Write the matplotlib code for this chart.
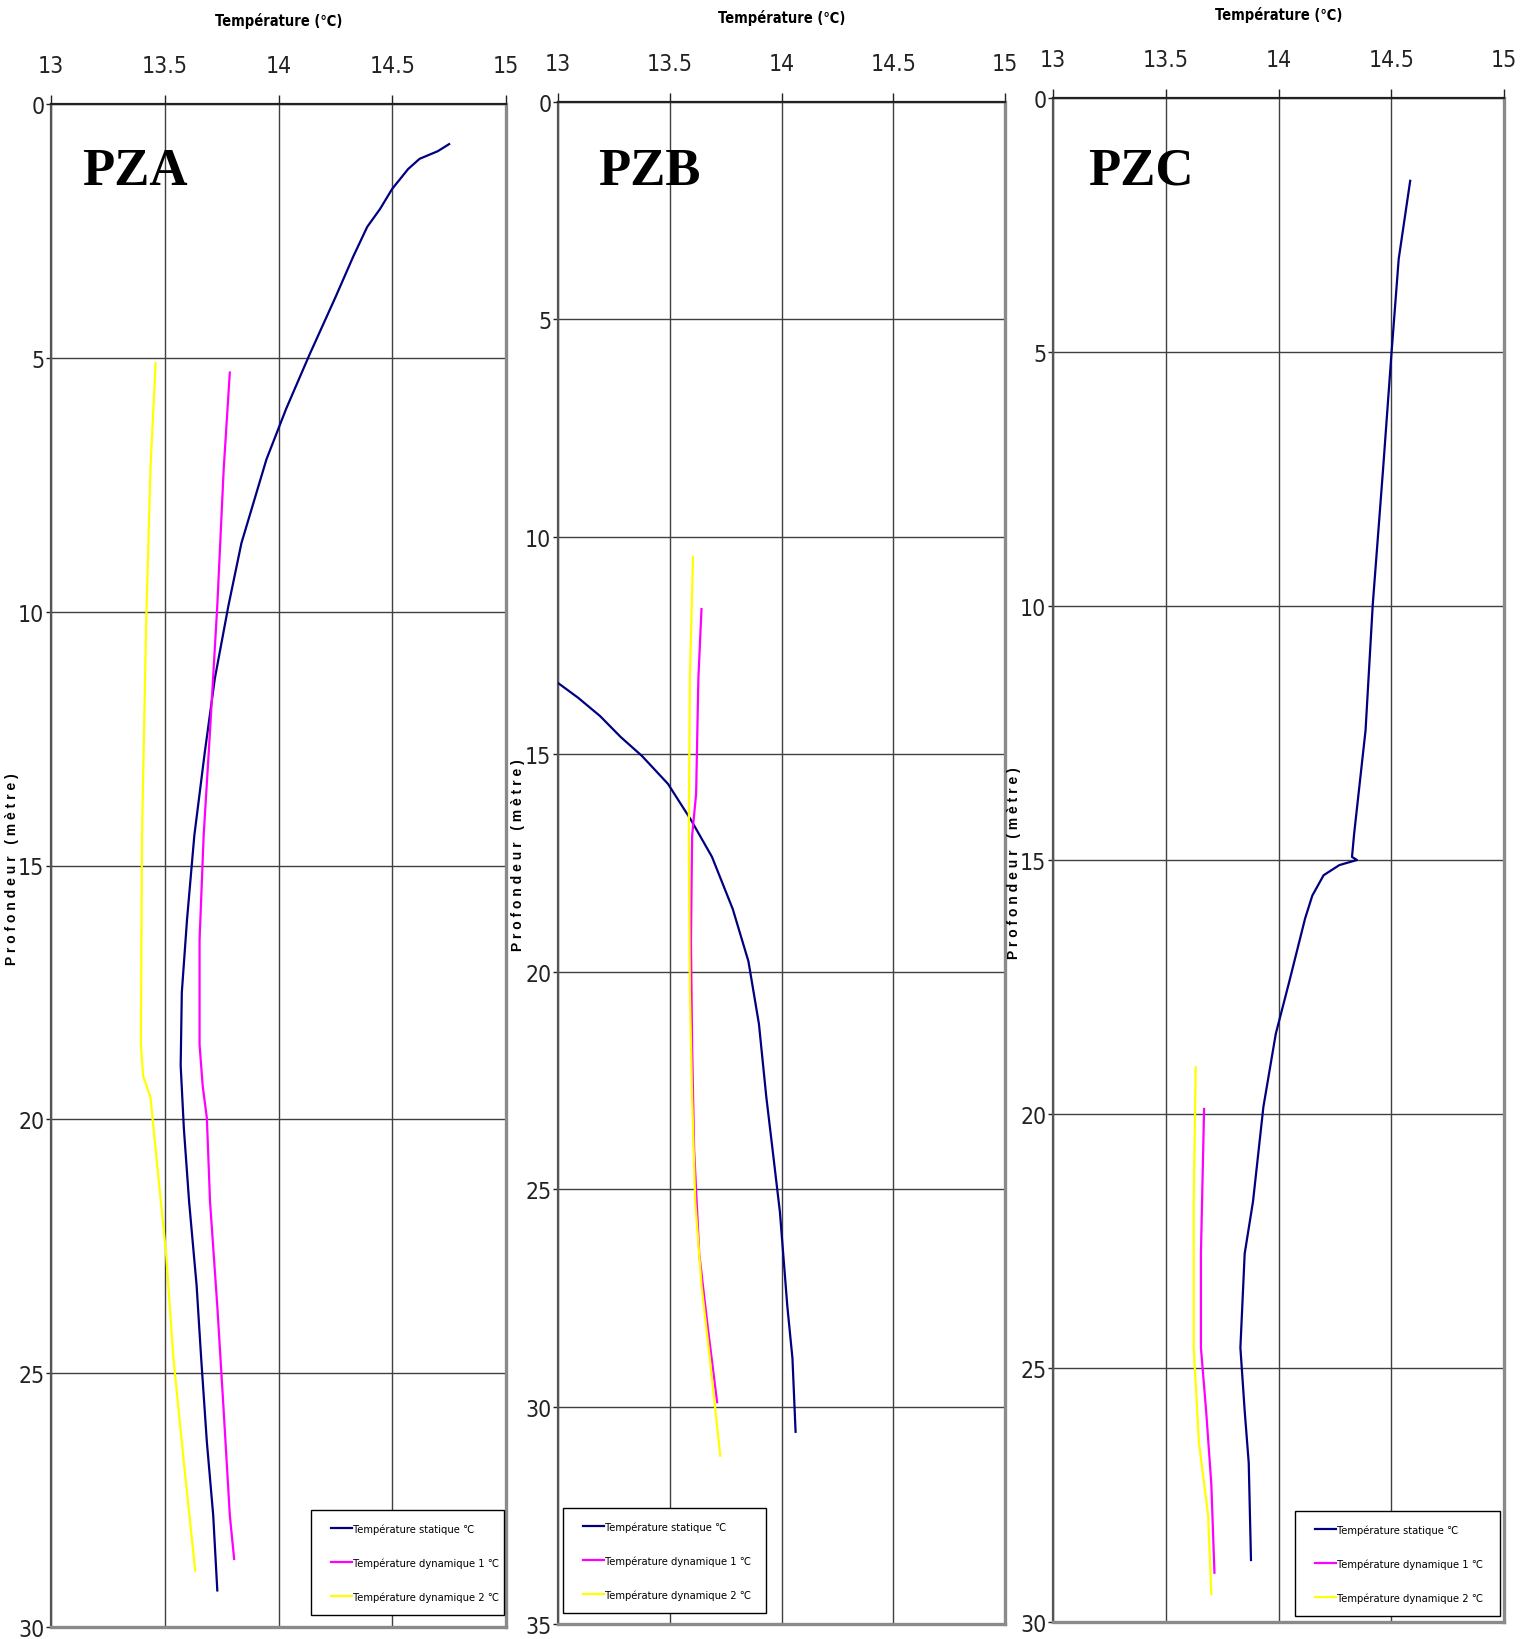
import matplotlib
matplotlib.use("Agg")
import matplotlib.pyplot as plt
from matplotlib import font_manager as fm
from matplotlib.lines import Line2D
from matplotlib.legend_handler import HandlerLine2D

# --- DATA (temperature in degC, depth in m) ---
A_STAT_T = [14.75, 14.70, 14.62, 14.57, 14.50, 14.446, 14.39, 14.329, 14.25, 14.136,
            14.034, 13.947, 13.837, 13.78, 13.72, 13.676, 13.63, 13.598, 13.575,
            13.57, 13.584, 13.607, 13.64, 13.66, 13.685, 13.713, 13.731]
A_STAT_D = [0.79, 0.93, 1.08, 1.28, 1.67, 2.07, 2.42, 3.0, 3.81, 4.94,
            6.0, 7.0, 8.65, 9.88, 11.32, 12.77, 14.41, 16.06, 17.5,
            18.94, 20.18, 21.62, 23.27, 24.7, 26.35, 27.8, 29.28]
A_DYN1_T = [13.786, 13.759, 13.731, 13.699, 13.671, 13.653, 13.653, 13.667, 13.685,
            13.699, 13.731, 13.759, 13.786, 13.805]
A_DYN1_D = [5.29, 7.2, 9.88, 12.35, 14.41, 16.47, 18.53, 19.35, 19.97,
            21.62, 23.68, 25.74, 27.8, 28.66]
A_DYN2_T = [13.46, 13.437, 13.418, 13.40, 13.395, 13.405, 13.437, 13.469, 13.506,
            13.538, 13.584, 13.634]
A_DYN2_D = [5.1, 7.2, 10.29, 14.41, 18.53, 19.15, 19.56, 21.0, 22.65,
            24.7, 26.76, 28.89]

B_STAT_T = [13.0, 13.09, 13.188, 13.28, 13.376, 13.492, 13.595, 13.689, 13.782,
            13.852, 13.899, 13.932, 13.96, 13.993, 14.026, 14.049, 14.063]
B_STAT_D = [13.36, 13.7, 14.12, 14.6, 15.04, 15.68, 16.51, 17.36, 18.56,
            19.76, 21.2, 22.88, 24.09, 25.53, 27.69, 28.89, 30.58]
B_DYN1_T = [13.642, 13.628, 13.618, 13.60, 13.595, 13.60, 13.609, 13.632, 13.67, 13.712]
B_DYN1_D = [11.66, 13.27, 15.91, 16.88, 19.28, 21.68, 24.09, 26.49, 28.17, 29.9]
B_DYN2_T = [13.604, 13.59, 13.585, 13.59, 13.60, 13.614, 13.642, 13.679, 13.726]
B_DYN2_D = [10.46, 13.27, 16.88, 20.48, 22.88, 25.29, 27.21, 28.89, 31.13]

C_STAT_T = [14.584, 14.533, 14.501, 14.464, 14.418, 14.386, 14.335, 14.326, 14.348,
            14.27, 14.20, 14.15, 14.118, 14.048, 13.988, 13.933, 13.887, 13.85,
            13.831, 13.85, 13.868, 13.878]
C_STAT_D = [1.63, 3.17, 5.03, 7.29, 9.97, 12.45, 14.5, 14.94, 15.0,
            15.1, 15.3, 15.7, 16.15, 17.39, 18.42, 19.86, 21.72, 22.75,
            24.6, 25.84, 26.87, 28.78]
C_DYN1_T = [13.67, 13.656, 13.656, 13.679, 13.702, 13.716]
C_DYN1_D = [19.9, 22.75, 24.6, 25.84, 27.28, 29.03]
C_DYN2_T = [13.633, 13.624, 13.624, 13.647, 13.688, 13.702]
C_DYN2_D = [19.08, 21.72, 24.6, 26.46, 27.9, 29.45]

X_TICKS = [13, 13.5, 14, 14.5, 15]
X_TICKLABELS = ['13', '13.5', '14', '14.5', '15']
NAMES = ['PZA', 'PZB', 'PZC']
MAX_DEPTH = [30, 35, 30]
LABELS = ['Température statique ℃', 'Température dynamique 1 ℃', 'Température dynamique 2 ℃']
COLORS = ['#000080', '#ff00ff', '#ffff00']
XLABEL = 'Température (℃)'
YLABEL = ' '.join('Profondeur (mètre)')


def find_narrow():
    # look for any installed narrow / condensed sans face
    for f in fm.fontManager.ttflist:
        fn = f.fname.lower()
        if ('narrow' in fn or 'condensed' in fn) and 'mono' not in fn and 'serif' not in fn \
                and 'bold' not in fn and 'oblique' not in fn and 'italic' not in fn:
            return f.name, f.stretch
    return None, None


NARROW, STRETCH = find_narrow()
if NARROW:
    plt.rcParams['font.family'] = [NARROW, 'DejaVu Sans']
    plt.rcParams['font.stretch'] = STRETCH
else:
    plt.rcParams['font.family'] = ['Liberation Sans', 'DejaVu Sans']
TICK_FS, LEG_FS, TITLE_FS = 16.5, 8, 10.5

fig = plt.figure(figsize=(15.26, 16.4), dpi=100)
W, H = 1526.0, 1640.0

# axes boxes in pixels: left, right, top, bottom
BOXES = [(51, 506, 105, 1628), (558, 1005, 103, 1625), (1053, 1504, 99, 1623)]
TITLE_Y = [21, 18, 15]
YLAB_POS = [(12, 869), (518, 855), (1014, 863)]
NAME_POS = [(0.068, 0.9475), (0.0895, 0.946), (0.0776, 0.9436)]
LEG_BOX = [(0.571, 0.0079, 0.425, 0.0696),
           (0.011, 0.0072, 0.454, 0.0690),
           (0.537, 0.0039, 0.454, 0.0702)]

series = [
    [(A_STAT_T, A_STAT_D), (A_DYN1_T, A_DYN1_D), (A_DYN2_T, A_DYN2_D)],
    [(B_STAT_T, B_STAT_D), (B_DYN1_T, B_DYN1_D), (B_DYN2_T, B_DYN2_D)],
    [(C_STAT_T, C_STAT_D), (C_DYN1_T, C_DYN1_D), (C_DYN2_T, C_DYN2_D)],
]

for i, (l, r, t, b) in enumerate(BOXES):
    ax = fig.add_axes([l / W, 1 - b / H, (r - l) / W, (b - t) / H])

    for (temps, depths), col, lab in zip(series[i], COLORS, LABELS):
        ax.plot(temps, depths, color=col, lw=1.6, label=lab, zorder=3,
                solid_joinstyle='round')

    ax.set_xlim(13, 15)
    ax.set_ylim(MAX_DEPTH[i], 0)
    ax.set_xticks(X_TICKS)
    ax.set_xticklabels(X_TICKLABELS)
    ax.set_yticks(range(0, MAX_DEPTH[i] + 1, 5))
    ax.xaxis.tick_top()
    ax.tick_params(axis='x', which='both', direction='out', length=6.5, width=1.0,
                   pad=13, labelsize=TICK_FS, colors='#222')
    ax.tick_params(axis='y', direction='out', length=3.3, width=1.0,
                   pad=1.5, labelsize=TICK_FS, colors='#222')
    ax.grid(True, color='#404040', lw=1.0, zorder=1)

    ax.spines['top'].set_color('#222')
    ax.spines['top'].set_linewidth(1.6)
    ax.spines['left'].set_color('#555')
    ax.spines['left'].set_linewidth(1.6)
    for s in ('right', 'bottom'):
        ax.spines[s].set_color('#8a8a8a')
        ax.spines[s].set_linewidth(2.4)

    ax.text(NAME_POS[i][0], NAME_POS[i][1], NAMES[i], transform=ax.transAxes,
            family=['Liberation Serif', 'DejaVu Serif'], fontweight='bold',
            fontstretch='normal', fontsize=38, va='baseline', ha='left', zorder=5)

    fig.text((l + r) / 2 / W, 1 - TITLE_Y[i] / H, XLABEL, ha='center', va='center',
             fontsize=TITLE_FS, fontweight='bold')
    fig.text(YLAB_POS[i][0] / W, 1 - YLAB_POS[i][1] / H, YLABEL, rotation=90,
             ha='center', va='center', fontsize=10, fontweight='bold',
             family=['Liberation Sans', 'DejaVu Sans'], fontstretch='normal')

    leg = ax.legend(loc='lower left', bbox_to_anchor=LEG_BOX[i], mode='expand',
                    borderaxespad=0, fontsize=LEG_FS, frameon=True, fancybox=False,
                    edgecolor='black', framealpha=1, borderpad=1.2,
                    labelspacing=2.1, handlelength=2.5, handletextpad=0.1,
                    handler_map={Line2D: HandlerLine2D(xpad=0.6)})
    leg.get_frame().set_linewidth(1.0)
    leg.set_zorder(6)

fig.savefig('out.png', dpi=100)
